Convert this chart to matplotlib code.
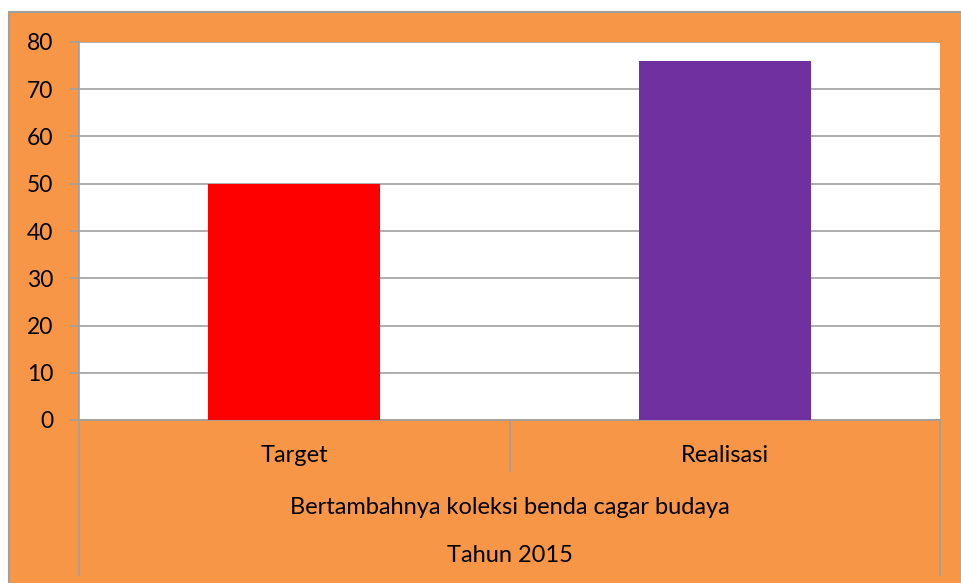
import matplotlib
matplotlib.use("Agg")
import matplotlib.pyplot as plt
from matplotlib.patches import Rectangle
from matplotlib.lines import Line2D
import matplotlib.transforms as mtransforms

categories = ["Target", "Realisasi"]
values = [50, 76]
bar_colors = ["#FF0000", "#7030A0"]
group_label = "Bertambahnya koleksi benda cagar budaya"
year_label = "Tahun 2015"
yticks = [0, 10, 20, 30, 40, 50, 60, 70, 80]

W, H = 961, 583
plt.rcParams['font.family'] = ['Lato', 'DejaVu Sans']
fig = plt.figure(figsize=(W / 100, H / 100), dpi=100, facecolor="white")

orange = "#F79646"
gray = "#A0A0A0"

# outer chart area
bg = Rectangle((9 / W, -0.1), 1.2, 1 - 12 / H + 0.1, transform=fig.transFigure,
               facecolor=orange, edgecolor=gray, linewidth=1.5, zorder=-10)
fig.add_artist(bg)

left, right, top, bottom = 79, 940, 42, 420
ax = fig.add_axes([left / W, 1 - bottom / H, (right - left) / W, (bottom - top) / H])
ax.set_zorder(5)
ax.set_facecolor("white")
x = list(range(len(categories)))
ax.bar(x, values, width=0.4, color=bar_colors, zorder=3)
ax.set_xlim(-0.5, 1.5)
ax.set_ylim(0, 80)
ax.set_yticks(yticks)
ax.set_yticklabels([str(v) for v in yticks], fontsize=16.5)
ax.yaxis.grid(True, color=gray, linewidth=1.2, zorder=1)
ax.set_axisbelow(True)
ax.tick_params(axis="y", length=6.5, color=gray, width=1.2, pad=12)
ax.set_xticks([])
for s in ["top", "right"]:
    ax.spines[s].set_visible(False)
ax.spines["left"].set_color(gray)
ax.spines["left"].set_linewidth(1.2)
ax.spines["bottom"].set_color(gray)
ax.spines["bottom"].set_linewidth(1.2)

# multi-level category axis
trans = mtransforms.blended_transform_factory(ax.transData, ax.transAxes)
px = 1 / (bottom - top)  # one pixel in axes fraction (vertical)
for xb, depth in [(-0.5, 155), (0.5, 51), (1.5, 155)]:
    ax.add_line(Line2D([xb, xb], [0, -depth * px], transform=trans, color=gray,
                       linewidth=1.2, clip_on=False))
for xi, c in zip(x, categories):
    ax.text(xi, -36 * px, c, transform=trans, ha="center", va="center", fontsize=17)
ax.text(0.5, -88 * px, group_label, transform=trans, ha="center", va="center", fontsize=17)
ax.text(0.5, -136 * px, year_label, transform=trans, ha="center", va="center", fontsize=17)

fig.savefig("out.png", dpi=100, facecolor=fig.get_facecolor())
